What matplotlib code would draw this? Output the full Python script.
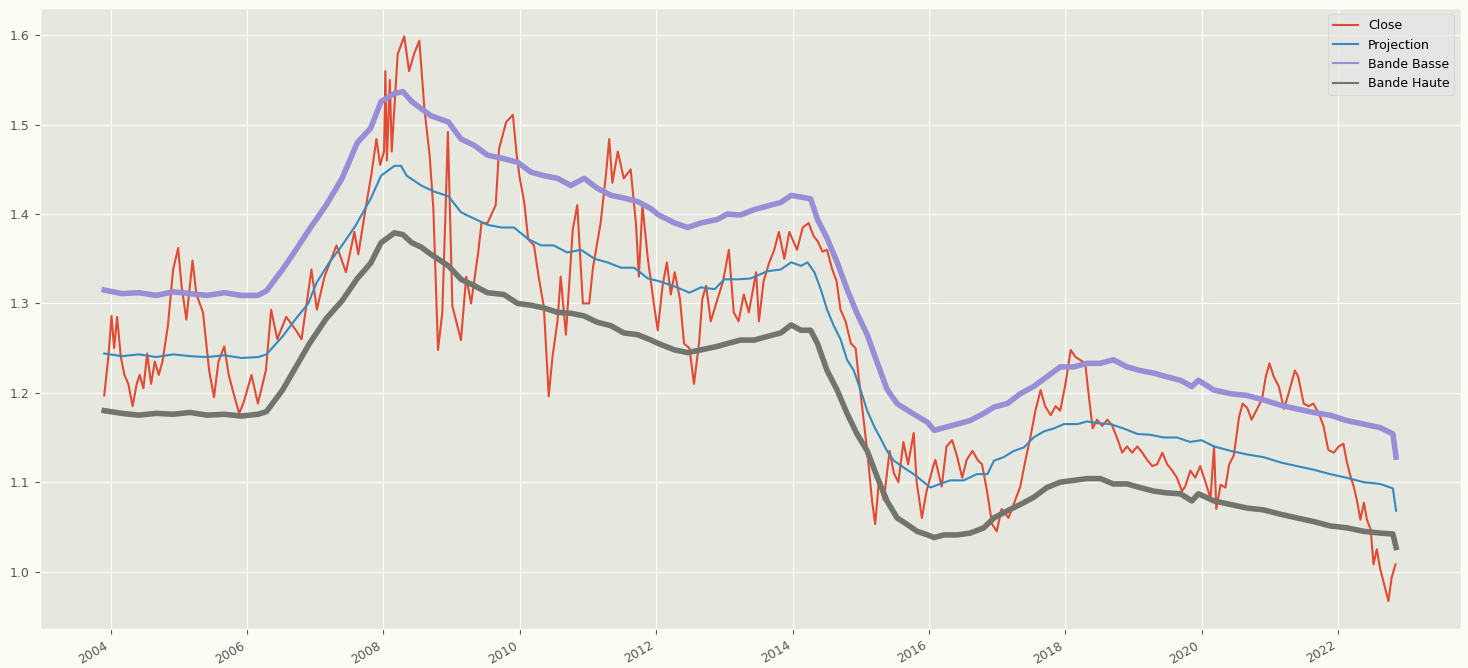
import matplotlib
matplotlib.use("Agg")
import matplotlib.pyplot as plt
import matplotlib.dates as mdates
import pandas as pd

# Close
close_dates = [
    "2003-11-28", "2003-12-20", "2004-01-06", "2004-01-20", "2004-02-05", "2004-02-25",
    "2004-03-15", "2004-04-05", "2004-04-28", "2004-05-20", "2004-06-05", "2004-06-25",
    "2004-07-15", "2004-08-05", "2004-08-25", "2004-09-15", "2004-10-05", "2004-11-03",
    "2004-12-01", "2004-12-28", "2005-01-15", "2005-02-10", "2005-03-15", "2005-04-05",
    "2005-05-10", "2005-06-12", "2005-07-08", "2005-08-01", "2005-09-01", "2005-09-25",
    "2005-10-20", "2005-11-20", "2005-12-15", "2006-01-25", "2006-02-28", "2006-04-12",
    "2006-05-10", "2006-06-12", "2006-07-30", "2006-09-20", "2006-10-20", "2006-12-12",
    "2007-01-10", "2007-02-20", "2007-04-25", "2007-06-15", "2007-07-30", "2007-08-20",
    "2007-10-01", "2007-10-28", "2007-11-25", "2007-12-15", "2008-01-05", "2008-01-12",
    "2008-01-20", "2008-02-05", "2008-02-15", "2008-03-18", "2008-04-22", "2008-05-18",
    "2008-06-15", "2008-07-12", "2008-08-08", "2008-09-05", "2008-09-25", "2008-10-20",
    "2008-11-12", "2008-11-28", "2008-12-12", "2009-01-05", "2009-02-20", "2009-03-20",
    "2009-04-15", "2009-05-22", "2009-06-10", "2009-07-12", "2009-08-25", "2009-09-12",
    "2009-10-20", "2009-11-25", "2009-12-15", "2010-01-01", "2010-01-25", "2010-02-15",
    "2010-03-18", "2010-04-12", "2010-05-10", "2010-06-05", "2010-06-25", "2010-07-22",
    "2010-08-08", "2010-09-05", "2010-10-12", "2010-11-05", "2010-12-05", "2011-01-08",
    "2011-01-28", "2011-03-10", "2011-04-08", "2011-04-25", "2011-05-12", "2011-06-10",
    "2011-07-12", "2011-08-18", "2011-09-15", "2011-10-01", "2011-10-20", "2011-11-18",
    "2011-12-20", "2012-01-10", "2012-02-05", "2012-02-28", "2012-03-20", "2012-04-10",
    "2012-05-08", "2012-05-30", "2012-06-28", "2012-07-22", "2012-08-18", "2012-09-05",
    "2012-09-25", "2012-10-20", "2012-11-18", "2012-12-25", "2013-01-25", "2013-02-20",
    "2013-03-18", "2013-04-15", "2013-05-12", "2013-06-20", "2013-07-05", "2013-07-30",
    "2013-08-28", "2013-09-25", "2013-10-20", "2013-11-18", "2013-12-15", "2014-01-25",
    "2014-02-25", "2014-03-28", "2014-04-25", "2014-05-15", "2014-06-10", "2014-07-05",
    "2014-07-30", "2014-08-25", "2014-09-15", "2014-10-12", "2014-11-10", "2014-12-05",
    "2014-12-20", "2015-01-15", "2015-02-05", "2015-03-03", "2015-03-20", "2015-04-08",
    "2015-05-05", "2015-06-05", "2015-06-28", "2015-07-22", "2015-08-18", "2015-09-12",
    "2015-10-12", "2015-10-28", "2015-11-25", "2015-12-20", "2016-01-25", "2016-02-05",
    "2016-03-10", "2016-04-05", "2016-05-05", "2016-05-30", "2016-06-28", "2016-07-22",
    "2016-08-22", "2016-09-18", "2016-10-12", "2016-11-08", "2016-12-05", "2016-12-30",
    "2017-01-25", "2017-03-03", "2017-04-08", "2017-05-05", "2017-06-02", "2017-06-28",
    "2017-07-25", "2017-08-22", "2017-09-15", "2017-10-15", "2017-11-10", "2017-12-05",
    "2018-01-02", "2018-01-30", "2018-02-25", "2018-03-20", "2018-04-18", "2018-05-08",
    "2018-05-28", "2018-06-20", "2018-07-18", "2018-08-15", "2018-09-10", "2018-10-08",
    "2018-11-02", "2018-11-28", "2018-12-25", "2019-01-22", "2019-02-18", "2019-03-15",
    "2019-04-12", "2019-05-08", "2019-06-05", "2019-07-01", "2019-07-28", "2019-08-22",
    "2019-09-18", "2019-10-05", "2019-11-02", "2019-11-28", "2019-12-25", "2020-01-22",
    "2020-02-18", "2020-03-08", "2020-03-20", "2020-04-12", "2020-05-08", "2020-05-28",
    "2020-06-22", "2020-07-20", "2020-08-08", "2020-09-02", "2020-09-25", "2020-10-20",
    "2020-11-20", "2020-12-10", "2020-12-30", "2021-01-22", "2021-02-18", "2021-03-18",
    "2021-04-12", "2021-05-15", "2021-06-02", "2021-07-01", "2021-07-28", "2021-08-22",
    "2021-09-20", "2021-10-15", "2021-11-10", "2021-12-10", "2022-01-05", "2022-01-30",
    "2022-02-15", "2022-03-08", "2022-03-25", "2022-04-12", "2022-05-01", "2022-05-20",
    "2022-06-05", "2022-06-25", "2022-07-10", "2022-07-28", "2022-08-15", "2022-09-10",
    "2022-09-28", "2022-10-15", "2022-11-05",
]
close_values = [
    1.197, 1.24, 1.286, 1.25, 1.285, 1.24,
    1.22, 1.21, 1.185, 1.21, 1.22, 1.205,
    1.244, 1.21, 1.235, 1.22, 1.235, 1.275,
    1.338, 1.362, 1.32, 1.282, 1.348, 1.31,
    1.29, 1.225, 1.195, 1.235, 1.252, 1.22,
    1.20, 1.177, 1.19, 1.22, 1.188, 1.225,
    1.293, 1.26, 1.285, 1.27, 1.26, 1.338,
    1.293, 1.33, 1.365, 1.335, 1.38, 1.355,
    1.41, 1.443, 1.484, 1.455, 1.47, 1.56,
    1.46, 1.55, 1.47, 1.579, 1.599, 1.56,
    1.58, 1.594, 1.518, 1.466, 1.406, 1.248,
    1.29, 1.395, 1.492, 1.297, 1.259, 1.33,
    1.30, 1.355, 1.39, 1.39, 1.41, 1.473,
    1.503, 1.511, 1.467, 1.44, 1.413, 1.372,
    1.365, 1.33, 1.296, 1.196, 1.24, 1.28,
    1.33, 1.265, 1.383, 1.41, 1.30, 1.30,
    1.34, 1.39, 1.445, 1.484, 1.435, 1.47,
    1.44, 1.45, 1.39, 1.33, 1.41, 1.35,
    1.30, 1.27, 1.32, 1.346, 1.31, 1.335,
    1.305, 1.255, 1.25, 1.21, 1.255, 1.305,
    1.32, 1.28, 1.30, 1.325, 1.36, 1.29,
    1.28, 1.31, 1.29, 1.335, 1.28, 1.325,
    1.345, 1.36, 1.38, 1.35, 1.38, 1.36,
    1.385, 1.39, 1.375, 1.37, 1.358, 1.36,
    1.34, 1.325, 1.293, 1.28, 1.255, 1.25,
    1.22, 1.173, 1.135, 1.079, 1.053, 1.10,
    1.08, 1.135, 1.11, 1.10, 1.145, 1.12,
    1.155, 1.10, 1.06, 1.09, 1.118, 1.125,
    1.095, 1.14, 1.147, 1.13, 1.105, 1.125,
    1.135, 1.125, 1.12, 1.09, 1.053, 1.045,
    1.07, 1.06, 1.08, 1.095, 1.125, 1.15,
    1.18, 1.203, 1.185, 1.175, 1.185, 1.18,
    1.21, 1.248, 1.24, 1.237, 1.233, 1.195,
    1.16, 1.17, 1.163, 1.17, 1.163, 1.148,
    1.133, 1.14, 1.133, 1.14, 1.133, 1.125,
    1.118, 1.12, 1.133, 1.12, 1.113, 1.105,
    1.09, 1.095, 1.113, 1.105, 1.118, 1.10,
    1.082, 1.14, 1.07, 1.097, 1.094, 1.12,
    1.13, 1.173, 1.188, 1.183, 1.17, 1.18,
    1.193, 1.218, 1.233, 1.218, 1.207, 1.182,
    1.20, 1.225, 1.218, 1.188, 1.185, 1.188,
    1.177, 1.163, 1.136, 1.133, 1.14, 1.143,
    1.125, 1.107, 1.096, 1.08, 1.058, 1.077,
    1.058, 1.047, 1.008, 1.025, 1.003, 0.982,
    0.967, 0.993, 1.008,
]

# Projection
proj_dates = [
    "2003-11-28", "2004-03-01", "2004-06-01", "2004-09-01", "2004-12-01", "2005-03-01",
    "2005-06-01", "2005-09-01", "2005-12-01", "2006-03-01", "2006-04-15", "2006-07-10",
    "2006-09-20", "2006-11-25", "2007-01-08", "2007-03-15", "2007-05-25", "2007-08-05",
    "2007-10-25", "2007-12-20", "2008-03-01", "2008-04-05", "2008-05-05", "2008-07-22",
    "2008-10-01", "2008-12-15", "2009-02-20", "2009-05-01", "2009-07-12", "2009-09-25",
    "2009-12-01", "2010-02-15", "2010-04-25", "2010-07-01", "2010-09-12", "2010-11-25",
    "2011-02-05", "2011-04-15", "2011-06-28", "2011-09-05", "2011-11-18", "2012-01-15",
    "2012-04-10", "2012-06-28", "2012-08-28", "2012-11-10", "2013-01-01", "2013-03-15",
    "2013-05-22", "2013-08-18", "2013-10-30", "2013-12-25", "2014-02-15", "2014-03-22",
    "2014-04-28", "2014-06-01", "2014-07-05", "2014-08-10", "2014-09-15", "2014-10-20",
    "2014-11-25", "2015-01-01", "2015-02-05", "2015-03-15", "2015-04-15", "2015-05-22",
    "2015-06-28", "2015-08-22", "2015-10-12", "2015-12-05", "2016-01-10", "2016-03-01",
    "2016-04-25", "2016-07-05", "2016-09-15", "2016-11-10", "2016-12-15", "2017-02-05",
    "2017-04-01", "2017-05-25", "2017-07-15", "2017-09-10", "2017-10-30", "2017-12-25",
    "2018-03-08", "2018-04-28", "2018-06-20", "2018-09-01", "2018-11-10", "2019-01-22",
    "2019-04-01", "2019-06-12", "2019-08-22", "2019-11-01", "2019-12-31", "2020-03-08",
    "2020-06-05", "2020-09-01", "2020-11-28", "2021-03-01", "2021-05-25", "2021-08-22",
    "2021-11-20", "2022-02-15", "2022-05-18", "2022-08-15", "2022-10-22", "2022-11-08",
]
proj_values = [
    1.244, 1.241, 1.243, 1.240, 1.243, 1.241,
    1.240, 1.242, 1.239, 1.240, 1.243, 1.263,
    1.283, 1.300, 1.323, 1.345, 1.365, 1.387,
    1.417, 1.443, 1.454, 1.454, 1.443, 1.432,
    1.425, 1.420, 1.402, 1.395, 1.388, 1.385,
    1.385, 1.372, 1.365, 1.365, 1.357, 1.360,
    1.350, 1.346, 1.340, 1.340, 1.328, 1.325,
    1.319, 1.312, 1.318, 1.316, 1.327, 1.327,
    1.328, 1.336, 1.338, 1.346, 1.342, 1.346,
    1.335, 1.316, 1.293, 1.275, 1.260, 1.237,
    1.225, 1.203, 1.180, 1.162, 1.150, 1.135,
    1.124, 1.116, 1.109, 1.100, 1.094, 1.098,
    1.102, 1.102, 1.109, 1.109, 1.124, 1.128,
    1.135, 1.139, 1.150, 1.157, 1.160, 1.165,
    1.165, 1.168, 1.166, 1.165, 1.160, 1.154,
    1.153, 1.150, 1.150, 1.145, 1.147, 1.140,
    1.135, 1.131, 1.128, 1.122, 1.118, 1.114,
    1.109, 1.105, 1.100, 1.098, 1.093, 1.068,
]

# Bande Basse / Bande Haute (same dates)
band_dates = [
    "2003-11-28", "2004-03-01", "2004-06-01", "2004-09-01", "2004-12-01", "2005-03-01",
    "2005-06-01", "2005-09-01", "2005-12-01", "2006-03-01", "2006-04-15", "2006-07-10",
    "2006-09-20", "2006-12-01", "2007-03-01", "2007-05-25", "2007-08-15", "2007-10-25",
    "2007-12-20", "2008-03-01", "2008-04-15", "2008-06-01", "2008-07-22", "2008-09-12",
    "2008-12-15", "2009-02-20", "2009-05-01", "2009-07-12", "2009-10-08", "2009-12-20",
    "2010-03-01", "2010-05-10", "2010-07-22", "2010-10-01", "2010-12-12", "2011-02-20",
    "2011-05-05", "2011-07-12", "2011-09-25", "2011-12-05", "2012-01-15", "2012-04-10",
    "2012-06-18", "2012-08-28", "2012-11-25", "2013-01-15", "2013-03-28", "2013-06-10",
    "2013-08-18", "2013-10-30", "2013-12-25", "2014-02-15", "2014-04-08", "2014-05-15",
    "2014-07-05", "2014-08-28", "2014-10-20", "2014-12-12", "2015-02-05", "2015-04-01",
    "2015-05-22", "2015-07-15", "2015-09-05", "2015-10-30", "2015-12-25", "2016-01-30",
    "2016-03-22", "2016-06-01", "2016-08-10", "2016-10-22", "2016-12-15", "2017-02-25",
    "2017-05-05", "2017-07-15", "2017-09-25", "2017-12-05", "2018-02-15", "2018-04-28",
    "2018-07-08", "2018-09-15", "2018-11-28", "2019-02-05", "2019-04-20", "2019-06-28",
    "2019-09-10", "2019-11-10", "2019-12-15", "2020-03-08", "2020-06-05", "2020-09-01",
    "2020-11-28", "2021-03-01", "2021-05-25", "2021-08-22", "2021-11-20", "2022-02-15",
    "2022-05-18", "2022-08-15", "2022-10-22", "2022-11-08",
]
basse_values = [
    1.315, 1.311, 1.312, 1.309, 1.313, 1.311,
    1.309, 1.312, 1.309, 1.309, 1.314, 1.338,
    1.360, 1.383, 1.410, 1.440, 1.480, 1.496,
    1.526, 1.535, 1.537, 1.526, 1.518, 1.510,
    1.503, 1.484, 1.477, 1.466, 1.462, 1.458,
    1.447, 1.443, 1.440, 1.432, 1.440, 1.429,
    1.421, 1.418, 1.414, 1.406, 1.399, 1.390,
    1.385, 1.390, 1.394, 1.400, 1.399, 1.405,
    1.409, 1.413, 1.421, 1.419, 1.417, 1.394,
    1.373, 1.346, 1.316, 1.289, 1.265, 1.233,
    1.204, 1.188, 1.181, 1.174, 1.167, 1.158,
    1.161, 1.165, 1.169, 1.177, 1.184, 1.188,
    1.199, 1.207, 1.218, 1.229, 1.229, 1.233,
    1.233, 1.237, 1.229, 1.225, 1.222, 1.218,
    1.214, 1.207, 1.214, 1.203, 1.199, 1.197,
    1.192, 1.186, 1.182, 1.178, 1.175, 1.169,
    1.165, 1.161, 1.154, 1.128,
]
haute_values = [
    1.180, 1.177, 1.175, 1.177, 1.176, 1.178,
    1.175, 1.176, 1.174, 1.176, 1.179, 1.203,
    1.229, 1.255, 1.283, 1.303, 1.328, 1.345,
    1.368, 1.379, 1.377, 1.368, 1.363, 1.355,
    1.342, 1.327, 1.320, 1.312, 1.310, 1.300,
    1.298, 1.295, 1.290, 1.289, 1.286, 1.279,
    1.275, 1.267, 1.265, 1.259, 1.255, 1.248,
    1.245, 1.248, 1.252, 1.255, 1.259, 1.259,
    1.263, 1.267, 1.276, 1.270, 1.270, 1.255,
    1.225, 1.203, 1.177, 1.154, 1.135, 1.105,
    1.079, 1.060, 1.053, 1.045, 1.041, 1.038,
    1.041, 1.041, 1.043, 1.049, 1.060, 1.068,
    1.075, 1.083, 1.094, 1.100, 1.102, 1.104,
    1.104, 1.098, 1.098, 1.094, 1.090, 1.088,
    1.087, 1.079, 1.087, 1.079, 1.075, 1.071,
    1.069, 1.064, 1.060, 1.056, 1.051, 1.049,
    1.045, 1.043, 1.042, 1.027,
]

plt.style.use("ggplot")
plt.rcParams["font.size"] = 9

fig, ax = plt.subplots(figsize=(14.68, 6.68), dpi=100)
fig.patch.set_facecolor("#fcfcf5")
ax.set_facecolor("#e6e7df")

ax.plot(pd.to_datetime(close_dates), close_values, color="#E24A33", lw=1.5, label="Close")
ax.plot(pd.to_datetime(proj_dates), proj_values, color="#348ABD", lw=1.5, label="Projection")
ax.plot(pd.to_datetime(band_dates), basse_values, color="#988ED5", lw=4, label="Bande Basse")
ax.plot(pd.to_datetime(band_dates), haute_values, color="#72756d", lw=4, label="Bande Haute")

ax.xaxis.set_major_locator(mdates.YearLocator(2))
ax.xaxis.set_major_formatter(mdates.DateFormatter("%Y"))
for lab in ax.get_xticklabels():
    lab.set_rotation(30)
    lab.set_ha("right")

leg = ax.legend(loc="upper right", fontsize=9)
for line in leg.get_lines():
    line.set_linewidth(1.5)

fig.subplots_adjust(left=0.027, right=0.995, top=0.988, bottom=0.058)
fig.savefig("out.png", dpi=100, facecolor=fig.get_facecolor())
